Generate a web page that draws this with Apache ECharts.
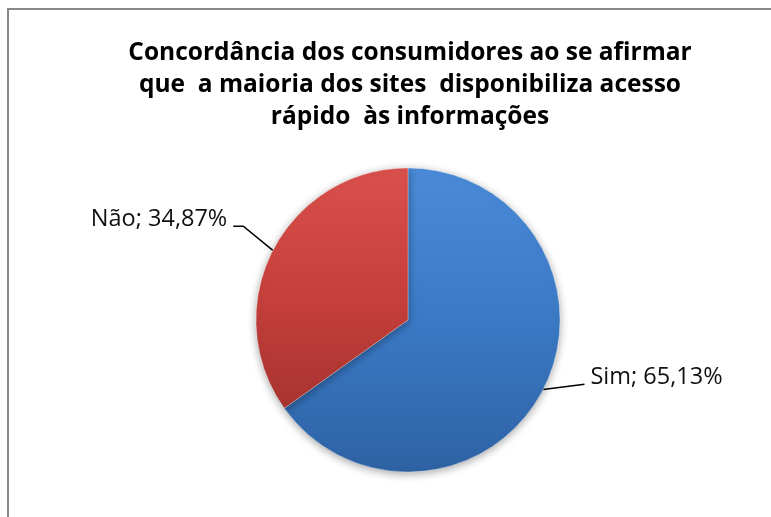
<!DOCTYPE html>
<html>
<head>
<meta charset="utf-8">
<script src="https://cdn.jsdelivr.net/npm/echarts@6/dist/echarts.min.js"></script>
<style>html,body{margin:0;padding:0;background:#fff}#c{width:771px;height:517px}</style>
</head>
<body>
<div id="c"></div>
<script>
var titleText = 'Concordância dos consumidores ao se afirmar\nque  a maioria dos sites  disponibiliza acesso\nrápido  às informações';
var categories = ['Sim', 'Não'];
var values = [65.13, 34.87];
var labelTexts = ['Sim; 65,13%', 'Não; 34,87%'];

var colors = [
  {top: '#4a8ad6', mid: '#3b79c5', bottom: '#2e62a4'},
  {top: '#d9504c', mid: '#c8403c', bottom: '#a83430'}
];
var lineSettings = [
  {length: 6, length2: 36},
  {length: 40, length2: 10}
];

var chart = echarts.init(document.getElementById('c'), null, {renderer: 'canvas'});
var data = categories.map(function (c, i) {
  return {
    name: c,
    value: values[i],
    itemStyle: {
      color: new echarts.graphic.LinearGradient(0, 0, 0, 1, [
        {offset: 0, color: colors[i].top},
        {offset: 0.5, color: colors[i].mid},
        {offset: 1, color: colors[i].bottom}
      ])
    },
    label: {formatter: labelTexts[i]},
    labelLine: lineSettings[i]
  };
});

chart.setOption({
  animation: false,
  backgroundColor: '#ffffff',
  title: {
    text: titleText,
    left: 405,
    top: 32,
    textAlign: 'center',
    textStyle: {
      fontFamily: 'Open Sans',
      fontWeight: 'bold',
      fontSize: 24.5,
      lineHeight: 32,
      color: '#000'
    }
  },
  graphic: [{
    type: 'rect',
    shape: {x: 8, y: 9, width: 900, height: 700},
    style: {fill: 'none', stroke: '#878787', lineWidth: 2},
    silent: true
  }],
  series: [{
    type: 'pie',
    center: [408, 320],
    radius: 152,
    startAngle: 90,
    clockwise: true,
    data: data,
    itemStyle: {
      shadowBlur: 8,
      shadowColor: 'rgba(0,0,0,0.35)',
      shadowOffsetY: 2,
      borderColor: 'rgba(255,255,255,0.3)',
      borderWidth: 1
    },
    label: {
      show: true,
      position: 'outside',
      fontFamily: 'Open Sans',
      fontSize: 23.5,
      color: '#111',
      distanceToLabelLine: 6
    },
    labelLine: {
      show: true,
      lineStyle: {color: '#000', width: 1.5}
    },
    labelLayout: function (p) {
      var pts = p.labelLinePoints;
      if (!pts) return {};
      if (p.dataIndex === 0) {
        var end = [pts[2][0], pts[2][1] - 8];
        return {dy: -15, labelLinePoints: [pts[0], pts[0], end]};
      }
      var bend = [pts[1][0] + 6, pts[1][1] - 6];
      var end2 = [pts[2][0] + 6, pts[2][1] - 6];
      return {dx: 6, dy: -13, labelLinePoints: [pts[0], bend, end2]};
    },
    emphasis: {disabled: true}
  }]
});
</script>
</body>
</html>
